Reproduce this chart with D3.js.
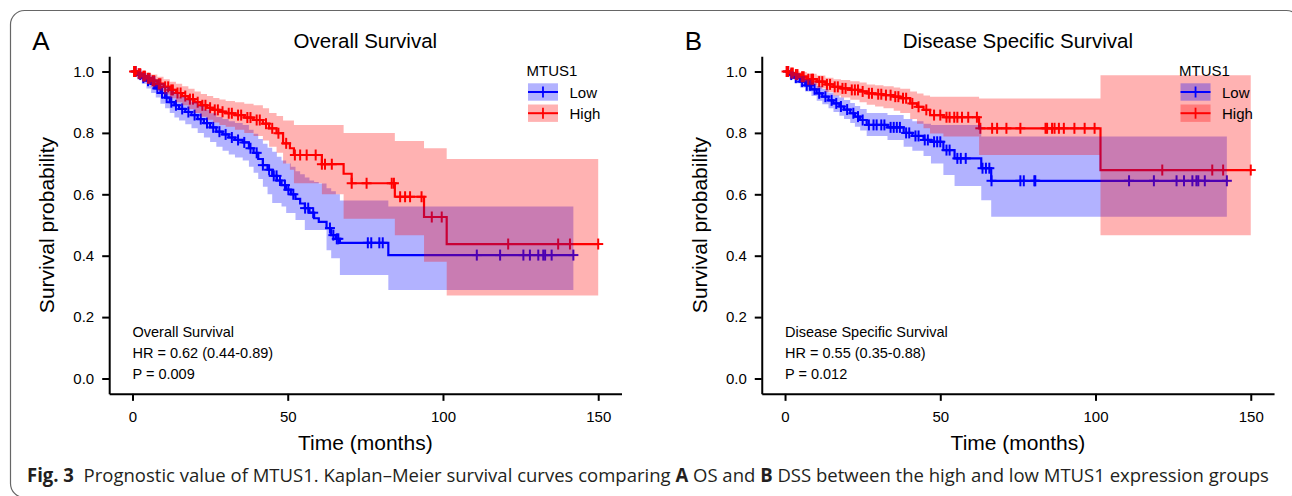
<!DOCTYPE html>
<html><head><meta charset="utf-8">
<script src="https://cdn.jsdelivr.net/npm/d3@7"></script>
<style>
body{margin:0;background:#fff}
svg{display:block}
text{font-family:"Liberation Sans",Arial,sans-serif}
text.cap{font-family:"Open Sans",sans-serif}
</style>
</head><body>
<svg id="c" width="1292" height="496"></svg>
<script>
// ---------------- DATA ----------------
const xTicks = [0, 50, 100, 150];
const yTicks = [0, 0.2, 0.4, 0.6, 0.8, 1.0];
const groups = ["Low", "High"];
const legendTitle = "MTUS1";

// Panel A: Overall Survival, Low (blue)
const osLowT = [0,1.5,3,4.5,6,7.5,9,10.5,12,13.5,15,17,19,21,23,25,27,29,31,33,35.5,37.5,39,40.5,42,43.5,45,46.5,48,49.5,51,52.5,54,55.5,57,58.5,60,62.5,64,65.5,66.8,82.4];
const osLowS = [1.0,0.99,0.98,0.97,0.96,0.945,0.93,0.915,0.9,0.89,0.878,0.868,0.858,0.845,0.832,0.818,0.804,0.795,0.785,0.777,0.769,0.75,0.735,0.715,0.695,0.68,0.66,0.645,0.63,0.615,0.60,0.585,0.57,0.555,0.54,0.522,0.51,0.49,0.467,0.455,0.442,0.402];
const osLowL = [1.0,0.975,0.96,0.945,0.93,0.915,0.895,0.88,0.865,0.85,0.84,0.828,0.815,0.8,0.785,0.77,0.755,0.742,0.73,0.72,0.71,0.69,0.67,0.65,0.625,0.60,0.572,0.572,0.56,0.539,0.539,0.516,0.516,0.484,0.484,0.484,0.484,0.418,0.392,0.392,0.337,0.288];
const osLowU = [1.0,1.0,0.995,0.99,0.985,0.975,0.962,0.95,0.937,0.928,0.918,0.908,0.9,0.888,0.876,0.864,0.852,0.845,0.838,0.832,0.826,0.81,0.797,0.78,0.765,0.752,0.739,0.722,0.71,0.70,0.69,0.675,0.665,0.655,0.645,0.64,0.635,0.62,0.61,0.60,0.58,0.56];
const osLowCens = [1,2.5,3.5,5,7,8,9.5,11,12.5,14,16,18,20,22,24,26,28,30,32,34,36,38,40,42,44,45.5,46.4,47.5,49.1,50.2,51.8,55.6,56.6,58.2,63.6,64.7,65.8,66.3,75.8,76.9,79.5,80.6,110.9,118.4,125.9,128,130.7,132.3,132.9,135,142];

// Panel A: Overall Survival, High (red)
const osHighT = [0,1.5,3,4.5,6,8,10,12,14,16,18,20,22,24,26,28,30,33,36,39,42,44,46.4,48.5,50.7,52,61,68,70.6,84.5,93.9,101.2];
const osHighS = [1.0,0.993,0.985,0.978,0.97,0.96,0.95,0.94,0.93,0.92,0.91,0.9,0.89,0.882,0.875,0.869,0.864,0.858,0.85,0.842,0.83,0.815,0.799,0.766,0.75,0.728,0.698,0.667,0.636,0.592,0.526,0.438];
const osHighL = [1.0,0.98,0.97,0.96,0.95,0.937,0.925,0.913,0.9,0.89,0.878,0.865,0.853,0.843,0.834,0.826,0.82,0.81,0.8,0.79,0.775,0.755,0.735,0.70,0.68,0.636,0.60,0.52,0.52,0.467,0.38,0.27];
const osHighU = [1.0,1.0,1.0,0.995,0.99,0.983,0.975,0.967,0.96,0.952,0.944,0.935,0.927,0.92,0.914,0.909,0.904,0.9,0.895,0.89,0.88,0.865,0.855,0.84,0.84,0.826,0.826,0.80,0.80,0.774,0.75,0.715];
const osHighCens = [0.5,1,2,2.5,3.5,4,5,5.5,6.5,7,8.5,9,10.5,11.5,12.5,13,14.5,15.5,17,18.5,19.5,21,22.5,23.5,25,26.5,27.5,29,31,32,34,35,37,38,40,41,43,45,47,49.5,52.3,54,56.1,59,61,62,64.2,70.6,75.4,83.5,84.2,86.2,87.8,89.4,93.1,96.4,99.6,121,137.1,140.9,150];

// Panel B: Disease Specific Survival, Low (blue)
const dssLowT = [0,1.5,3,4.8,6.5,8.5,10.2,12,14,15.6,17.5,19,21,22.5,24.2,26.3,33,38.2,41,44.6,47,51,54.6,63.2,66.4];
const dssLowS = [1.0,0.99,0.98,0.967,0.955,0.942,0.929,0.918,0.906,0.896,0.886,0.876,0.864,0.853,0.842,0.826,0.818,0.80,0.79,0.777,0.771,0.744,0.717,0.685,0.644];
const dssLowL = [1.0,0.975,0.962,0.948,0.935,0.92,0.905,0.893,0.88,0.868,0.856,0.845,0.832,0.82,0.808,0.79,0.777,0.755,0.742,0.725,0.70,0.663,0.627,0.581,0.527];
const dssLowU = [1.0,1.0,0.995,0.985,0.975,0.964,0.953,0.943,0.932,0.923,0.915,0.907,0.897,0.888,0.878,0.865,0.858,0.845,0.838,0.83,0.826,0.826,0.826,0.788,0.788];
const dssLowCens = [1,2,3.5,5.5,7,8,9.5,11,13,15,16.5,18,20,22,23.5,25,27,28.5,29.5,31,32,34,35,36,37,39,40,42,43,45,46,48,49,50,52,53,55.5,56.6,58.2,63.6,64.7,65.8,66.5,75.8,76.9,80.3,80.6,110.8,118.8,126.1,128.5,131.2,132.5,133.1,135.2,142.3];

// Panel B: Disease Specific Survival, High (red)
const dssHighT = [0,1.5,3,4.8,7,10.2,13,15.6,18,21,24,26.3,29,31.7,35,37.1,40.3,42.5,44.6,46.7,51,62.5,101.6];
const dssHighS = [1.0,0.995,0.99,0.983,0.975,0.967,0.958,0.95,0.945,0.94,0.935,0.929,0.926,0.923,0.918,0.913,0.896,0.885,0.875,0.858,0.851,0.815,0.679];
const dssHighL = [1.0,0.985,0.975,0.965,0.955,0.945,0.933,0.922,0.915,0.908,0.9,0.892,0.886,0.88,0.872,0.865,0.845,0.83,0.815,0.798,0.788,0.728,0.467];
const dssHighU = [1.0,1.0,1.0,0.998,0.993,0.987,0.98,0.975,0.972,0.968,0.964,0.958,0.955,0.952,0.948,0.944,0.935,0.928,0.922,0.918,0.918,0.912,0.988];
const dssHighCens = [0.5,1,2,2.5,3.5,4,5.5,6,7.5,8.5,9,11,12,13.5,14.5,16,17,18.5,19.5,21.5,22.5,23.5,25,27,28,30,31,32.5,34,35.5,36.5,38,39,41,43,45.5,48,50,52,53,54.5,55.5,57,59,61.8,62.9,66.7,68.3,71.3,75.8,83.9,84.4,86,86.8,88.2,89.8,93.2,96.5,99.7,121.5,137.6,141.1,150];

const osAnnot = ["Overall Survival", "HR = 0.62 (0.44-0.89)", "P = 0.009"];
const dssAnnot = ["Disease Specific Survival", "HR = 0.55 (0.35-0.88)", "P = 0.012"];

// ---------------- DRAW ----------------
const BLUE = "#0000ff", RED = "#ff0000";
const svg = d3.select("#c");

svg.append("rect").attr("x",10.5).attr("y",10.5).attr("width",1290).attr("height",487)
  .attr("rx",14).attr("fill","none").attr("stroke","#666").attr("stroke-width",1.2);

function mkCurve(T,S,L,U,cens,color){
  const end = d3.max(cens);
  const pts = T.map((t,i)=>({t, s:S[i], l:L[i], u:U[i]}));
  pts.push({t:end, s:S[S.length-1], l:L[L.length-1], u:U[U.length-1]});
  const valAt = c => { let v=S[0]; for(let i=0;i<T.length;i++){ if(T[i]<=c) v=S[i]; } return v; };
  return {pts, cens: cens.map(c=>({t:c, s:valAt(c)})), color};
}

function panel(o){
  const x = d3.scaleLinear().domain([-7.5,157.5]).range([o.x0, o.x0+512.3]);
  const y = d3.scaleLinear().domain([-0.05,1.05]).range([393.85,56.15]);
  const g = svg.append("g");

  const ya = g.append("g").attr("transform",`translate(${o.x0},0)`)
    .call(d3.axisLeft(y).tickValues(yTicks).tickFormat(d3.format(".1f")).tickSize(7).tickSizeOuter(0).tickPadding(8));
  const xa = g.append("g").attr("transform",`translate(0,393.85)`)
    .call(d3.axisBottom(x).tickValues(xTicks).tickSize(7).tickSizeOuter(0).tickPadding(11));
  [ya,xa].forEach(a=>{
    a.select(".domain").attr("stroke","#000").attr("stroke-width",2);
    a.selectAll(".tick line").attr("stroke","#000").attr("stroke-width",2);
    a.selectAll(".tick text").attr("font-size",15).attr("fill","#000")
      .attr("font-family","'Liberation Sans',Arial,sans-serif");
  });

  const line = d3.line().curve(d3.curveStepAfter).x(d=>x(d.t)).y(d=>y(d.s));
  const area = d3.area().curve(d3.curveStepAfter).x(d=>x(d.t)).y0(d=>y(d.l)).y1(d=>y(d.u));

  o.curves.forEach(c=>{
    g.append("path").attr("d",line(c.pts)).attr("fill","none").attr("stroke",c.color).attr("stroke-width",2.2);
    const m = g.append("g").attr("stroke",c.color).attr("stroke-width",2);
    c.cens.forEach(d=>{
      m.append("line").attr("x1",x(d.t)).attr("x2",x(d.t)).attr("y1",y(d.s)-5.5).attr("y2",y(d.s)+5.5);
      m.append("line").attr("x1",x(d.t)-5).attr("x2",x(d.t)+5).attr("y1",y(d.s)).attr("y2",y(d.s));
    });
  });
  o.curves.forEach(c=>{
    g.append("path").attr("d",area(c.pts)).attr("fill",c.color).attr("fill-opacity",0.3).attr("stroke","none");
  });

  o.annot.forEach((t,i)=>{
    g.append("text").attr("x",x(0)).attr("y",y(0)-42+21*i).attr("font-size",14.5).attr("fill","#000").text(t);
  });

  const lx = x(0)+394;
  g.append("text").attr("x",lx).attr("y",75.7).attr("font-size",15).text(legendTitle);
  groups.forEach((gr,i)=>{
    const c = o.curves[i];
    const ky = 83.3 + i*21.2;
    g.append("rect").attr("x",lx+1.5).attr("y",ky).attr("width",30).attr("height",17.4)
      .attr("fill",c.color).attr("fill-opacity",0.3);
    g.append("line").attr("x1",lx+1.5).attr("x2",lx+31.5).attr("y1",ky+8.7).attr("y2",ky+8.7)
      .attr("stroke",c.color).attr("stroke-width",2);
    g.append("line").attr("x1",lx+16.5).attr("x2",lx+16.5).attr("y1",ky+3.2).attr("y2",ky+14.2)
      .attr("stroke",c.color).attr("stroke-width",1.8);
    g.append("text").attr("x",lx+43).attr("y",ky+14.3).attr("font-size",15).text(gr);
  });

  g.append("text").attr("x",o.x0-77).attr("y",50).attr("font-size",26).text(o.letter);
  g.append("text").attr("x",(x.range()[0]+x.range()[1])/2).attr("y",48).attr("text-anchor","middle")
    .attr("font-size",20.5).text(o.title);
  g.append("text").attr("x",(x.range()[0]+x.range()[1])/2).attr("y",450).attr("text-anchor","middle")
    .attr("font-size",21).text("Time (months)");
  g.append("text").attr("transform",`translate(${o.x0-55},${(56.15+393.85)/2}) rotate(-90)`)
    .attr("text-anchor","middle").attr("font-size",21).text("Survival probability");
}

panel({x0:109.2, letter:"A", title:"Overall Survival", annot:osAnnot,
  curves:[mkCurve(osLowT,osLowS,osLowL,osLowU,osLowCens,BLUE), mkCurve(osHighT,osHighS,osHighL,osHighU,osHighCens,RED)]});
panel({x0:761.75, letter:"B", title:"Disease Specific Survival", annot:dssAnnot,
  curves:[mkCurve(dssLowT,dssLowS,dssLowL,dssLowU,dssLowCens,BLUE), mkCurve(dssHighT,dssHighS,dssHighL,dssHighU,dssHighCens,RED)]});

// caption
const cap = svg.append("text").attr("class","cap").attr("font-size",19)
  .attr("fill","#231f20").style("white-space","pre");
cap.append("tspan").attr("font-weight","bold").text("Fig. 3");
cap.append("tspan").text("  Prognostic value of MTUS1. Kaplan\u2013Meier survival curves comparing ");
cap.append("tspan").attr("font-weight","bold").text("A");
cap.append("tspan").text(" OS and ");
cap.append("tspan").attr("font-weight","bold").text("B");
cap.append("tspan").text(" DSS between the high and low MTUS1 expression groups");
const cw = cap.node().getComputedTextLength();
cap.attr("transform",`translate(27,482) scale(${1243/cw},1)`);
</script>
</body></html>
